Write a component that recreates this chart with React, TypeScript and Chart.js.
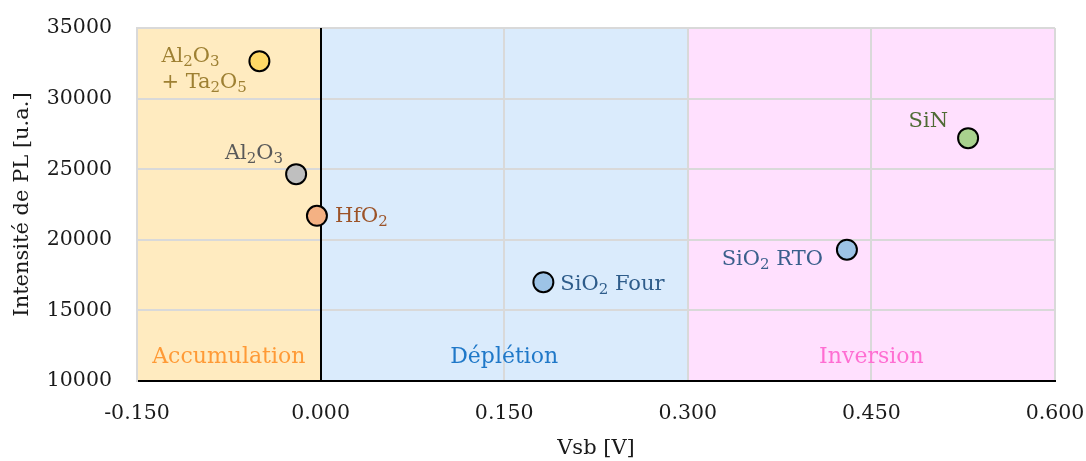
import React, { useEffect, useRef } from "react";
import { Chart, registerables } from "chart.js";

Chart.register(...registerables);

// ---- Data ----
const categories = ["Al2O3\n+ Ta2O5", "Al2O3", "HfO2", "SiO2 Four", "SiO2 RTO", "SiN"];
const vsbValues = [-0.05, -0.02, -0.003, 0.182, 0.43, 0.529];
const plValues = [32650, 24650, 21700, 17000, 19300, 27200];
const xTicks = [-0.15, 0, 0.15, 0.3, 0.45, 0.6];
const yTicks = [10000, 15000, 20000, 25000, 30000, 35000];
const regionNames = ["Accumulation", "Déplétion", "Inversion"];
const regionStart = [-0.15, 0, 0.3];
const regionEnd = [0, 0.3, 0.6];

// ---- Styles ----
const FONT = "'DejaVu Serif', serif";
const AREA = { left: 137, top: 28, right: 1055, bottom: 381 };
const pointFill = ["#FFD966", "#BFBFBF", "#F4B183", "#9DC3E6", "#9DC3E6", "#A9D18E"];
const labelColor = ["#9E8033", "#595959", "#9C5328", "#2E5C8A", "#3A5F8C", "#4F6B35"];
// offsets in px relative to the point: dx, baseline dy, align
const labelOffset: [number, number, "left" | "right"][] = [
  [-98, 1, "left"],
  [-13, -15, "right"],
  [18, 6, "left"],
  [17, 8, "left"],
  [-24, 15, "right"],
  [-20, -11, "right"],
];
const regionFill = ["#FFEBC0", "#DAEBFC", "#FFE0FE"];
const regionText = ["#FF9A36", "#1F78C8", "#FF6ED2"];

function segments(text: string) {
  const segs: { t: string; sub: boolean }[] = [];
  for (const ch of text) {
    const sub = /[0-9]/.test(ch);
    const last = segs[segs.length - 1];
    if (last && last.sub === sub) last.t += ch;
    else segs.push({ t: ch, sub });
  }
  return segs;
}

function drawRich(ctx: CanvasRenderingContext2D, text: string, x: number, y: number, align: "left" | "right", color: string) {
  const segs = segments(text);
  const mainFont = `21px ${FONT}`;
  const subFont = `15px ${FONT}`;
  let w = 0;
  for (const s of segs) {
    ctx.font = s.sub ? subFont : mainFont;
    w += ctx.measureText(s.t).width;
  }
  let cx = align === "right" ? x - w : x;
  ctx.fillStyle = color;
  ctx.textAlign = "left";
  ctx.textBaseline = "alphabetic";
  for (const s of segs) {
    ctx.font = s.sub ? subFont : mainFont;
    ctx.fillText(s.t, cx, s.sub ? y + 4 : y);
    cx += ctx.measureText(s.t).width;
  }
}

const bgPlugin = {
  id: "regions",
  beforeDraw(chart: any) {
    const { ctx, chartArea, scales } = chart;
    const xs = scales.x;
    ctx.save();
    for (let i = 0; i < regionNames.length; i++) {
      const x0 = xs.getPixelForValue(regionStart[i]);
      const x1 = xs.getPixelForValue(regionEnd[i]);
      ctx.fillStyle = regionFill[i];
      ctx.fillRect(x0, chartArea.top, x1 - x0, chartArea.bottom - chartArea.top);
    }
    ctx.restore();
  },
  beforeDatasetsDraw(chart: any) {
    const { ctx, chartArea, scales } = chart;
    const xs = scales.x;
    ctx.save();
    ctx.font = `22px ${FONT}`;
    ctx.textAlign = "center";
    ctx.textBaseline = "middle";
    for (let i = 0; i < regionNames.length; i++) {
      const x0 = xs.getPixelForValue(regionStart[i]);
      const x1 = xs.getPixelForValue(regionEnd[i]);
      ctx.fillStyle = regionText[i];
      ctx.fillText(regionNames[i], (x0 + x1) / 2, chartArea.bottom - 24);
    }
    const xz = Math.round(xs.getPixelForValue(0));
    ctx.strokeStyle = "#000";
    ctx.lineWidth = 2;
    ctx.beginPath();
    ctx.moveTo(xz, chartArea.top);
    ctx.lineTo(xz, chartArea.bottom);
    ctx.stroke();
    ctx.restore();
  },
  afterDatasetsDraw(chart: any) {
    const { ctx } = chart;
    const meta = chart.getDatasetMeta(0);
    ctx.save();
    meta.data.forEach((pt: any, i: number) => {
      const [dx, dy, align] = labelOffset[i];
      const lines = categories[i].split("\n");
      lines.forEach((line, j) => {
        drawRich(ctx, line, pt.x + dx, pt.y + dy + j * 26, align, labelColor[i]);
      });
    });
    ctx.restore();
  },
};

function zeroPad(s: any) {
  s.paddingTop = 0;
  s.paddingBottom = 0;
  s.paddingLeft = 0;
  s.paddingRight = 0;
}

export default function App() {
  const ref = useRef<HTMLCanvasElement>(null);
  useEffect(() => {
    if (!ref.current) return;
    const pad = { left: 0, top: AREA.top, right: 1086 - AREA.right, bottom: 0 };
    const chart = new Chart(ref.current, {
      type: "scatter",
      data: {
        datasets: [
          {
            data: vsbValues.map((v, i) => ({ x: v, y: plValues[i] })),
            pointBackgroundColor: pointFill,
            pointBorderColor: "#000",
            pointBorderWidth: 2,
            pointRadius: 10,
            pointHoverRadius: 10,
          },
        ],
      },
      options: {
        animation: false,
        responsive: false,
        layout: { autoPadding: false, padding: pad },
        plugins: { legend: { display: false }, tooltip: { enabled: false } },
        scales: {
          x: {
            type: "linear",
            min: -0.15,
            max: 0.6,
            afterBuildTicks: (s: any) => {
              s.ticks = xTicks.map((v) => ({ value: v }));
            },
            afterFit: (s: any) => {
              s.height = 461 - AREA.bottom;
              zeroPad(s);
            },
            ticks: {
              padding: 20,
              color: "#1a1a1a",
              font: { family: FONT, size: 20.5 },
              maxRotation: 0,
              callback: (v: any) => Number(v).toFixed(3),
            },
            grid: { color: "#D9D9D9", lineWidth: 2, drawTicks: false },
            border: { color: "#000", width: 2 },
            title: {
              display: true,
              text: "Vsb [V]",
              color: "#1a1a1a",
              font: { family: FONT, size: 21 },
              padding: { top: 0, bottom: 0 },
            },
          },
          y: {
            type: "linear",
            min: 10000,
            max: 35000,
            afterBuildTicks: (s: any) => {
              s.ticks = yTicks.map((v) => ({ value: v }));
            },
            afterFit: (s: any) => {
              s.width = AREA.left;
              zeroPad(s);
            },
            ticks: {
              padding: 25,
              color: "#1a1a1a",
              font: { family: FONT, size: 20.5 },
              callback: (v: any) => String(v),
            },
            grid: { color: "#D9D9D9", lineWidth: 2, drawTicks: false },
            border: { color: "#D9D9D9", width: 2 },
            title: {
              display: true,
              text: "Intensité de PL [u.a.]",
              color: "#1a1a1a",
              font: { family: FONT, size: 21 },
              padding: { top: 10, bottom: 0 },
            },
          },
        },
      },
      plugins: [bgPlugin],
    });
    // nudge the layout padding so the plot area lands where the reference has it
    for (let k = 0; k < 4; k++) {
      const a = chart.chartArea;
      const dt = a.top - AREA.top;
      const dr = AREA.right - a.right;
      if (Math.abs(dt) < 0.3 && Math.abs(dr) < 0.3) break;
      pad.top = Math.max(0, pad.top - dt);
      pad.right = Math.max(0, pad.right - dr);
      (chart.config.options as any).layout.padding = { ...pad };
      chart.update();
    }
    return () => chart.destroy();
  }, []);
  return (
    <div style={{ position: "absolute", left: 0, top: 0, width: 1086, height: 461, background: "#fff" }}>
      <canvas ref={ref} width={1086} height={461} style={{ display: "block" }} />
    </div>
  );
}
